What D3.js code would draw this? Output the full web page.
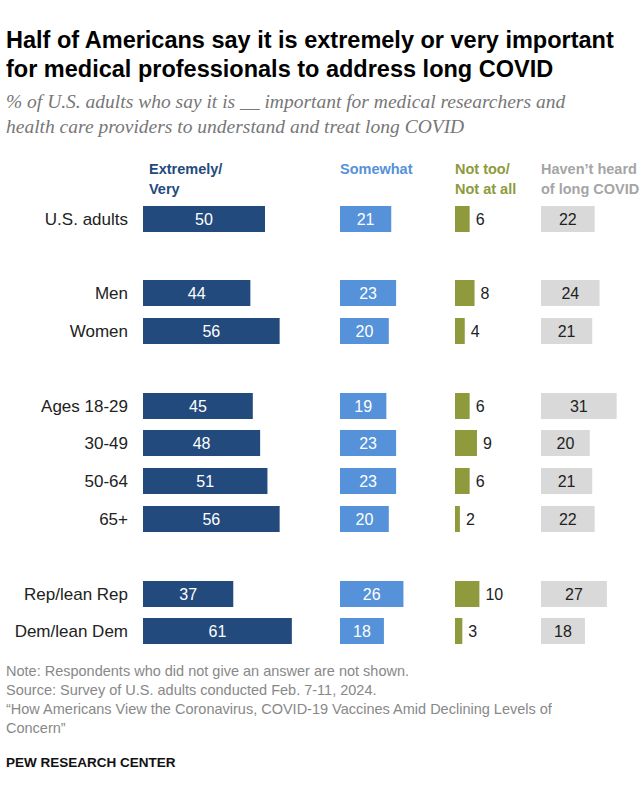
<!DOCTYPE html>
<html><head><meta charset="utf-8">
<script src="https://cdn.jsdelivr.net/npm/d3@7"></script>
<style>body{margin:0;background:#fff;font-family:Arial,"Liberation Sans",sans-serif}</style>
</head><body><svg id="c" width="640" height="800"></svg>
<script>
const categories=["U.S. adults","Men","Women","Ages 18-29","30-49","50-64","65+","Rep/lean Rep","Dem/lean Dem"];
const extremely=[50,44,56,45,48,51,56,37,61];
const somewhat=[21,23,20,19,23,23,20,26,18];
const notToo=[6,8,4,6,9,6,2,10,3];
const haventHeard=[22,24,21,31,20,21,22,27,18];
const rowY=[219,293,331,406,443,481,519,594,631];

const svg=d3.select("#c");
const x=d3.scaleLinear().domain([0,100]).range([0,244]);
const bh=26;
const t=(s,xx,yy,o={})=>svg.append("text").attr("x",xx).attr("y",yy).text(s)
 .attr("font-size",o.size||15).attr("fill",o.fill||"#222").attr("font-weight",o.w||"normal")
 .attr("font-style",o.st||"normal").attr("text-anchor",o.a||"start")
 .attr("font-family",o.ff||null);

t("Half of Americans say it is extremely or very important",6,48,{size:23.5,w:"bold",fill:"#000"});
t("for medical professionals to address long COVID",6,77,{size:23.5,w:"bold",fill:"#000"});
const serif="'Liberation Serif','DejaVu Serif',serif";
t("% of U.S. adults who say it is __ important for medical researchers and",6,108,{size:19.5,st:"italic",fill:"#777",ff:serif});
t("health care providers to understand and treat long COVID",6,133,{size:19.5,st:"italic",fill:"#777",ff:serif});

const cols=[
 {x0:143,data:extremely,color:"#234a7c",head:["Extremely/","Very"],hc:"#234a7c",inside:true,lc:"#fff"},
 {x0:340,data:somewhat,color:"#5592d9",head:["Somewhat"],hc:"#5592d9",inside:true,lc:"#fff"},
 {x0:455,data:notToo,color:"#8e9a3c",head:["Not too/","Not at all"],hc:"#8e9a3c",inside:false,lc:"#222"},
 {x0:541,data:haventHeard,color:"#d9d9d9",head:["Haven\u2019t heard","of long COVID"],hc:"#a5a5a5",inside:true,lc:"#222"}
];
cols.forEach(c=>{
 c.head.forEach((h,i)=>t(h,c.x0+(c.x0===143?6:0),174+i*20,{size:14.5,w:"bold",fill:c.hc}));
 const g=svg.append("g");
 g.selectAll("rect").data(c.data).join("rect")
  .attr("x",c.x0).attr("y",(d,i)=>rowY[i]-bh/2).attr("width",d=>x(d)).attr("height",bh).attr("fill",c.color);
 g.selectAll("text").data(c.data).join("text")
  .attr("x",d=>c.inside?c.x0+x(d)/2:c.x0+x(d)+6).attr("y",(d,i)=>rowY[i]+6)
  .attr("text-anchor",c.inside?"middle":"start").attr("font-size",16).attr("fill",c.lc).text(d=>d);
});
svg.append("g").selectAll("text").data(categories).join("text")
 .attr("x",128).attr("y",(d,i)=>rowY[i]+6).attr("text-anchor","end").attr("font-size",17).attr("fill","#222").text(d=>d);

t("Note: Respondents who did not give an answer are not shown.",6,676,{size:14.5,fill:"#888"});
t("Source: Survey of U.S. adults conducted Feb. 7-11, 2024.",6,695,{size:14.5,fill:"#888"});
t("\u201cHow Americans View the Coronavirus, COVID-19 Vaccines Amid Declining Levels of",6,714,{size:14.5,fill:"#888"});
t("Concern\u201d",6,733,{size:14.5,fill:"#888"});
t("PEW RESEARCH CENTER",6,767,{size:13.5,w:"bold",fill:"#111"});
</script></body></html>
